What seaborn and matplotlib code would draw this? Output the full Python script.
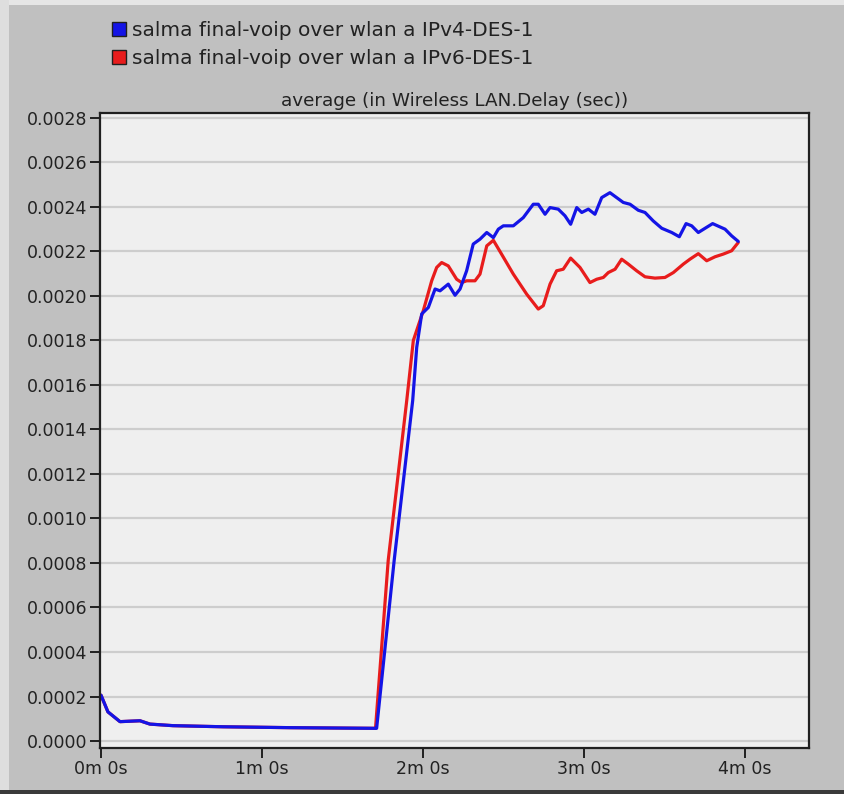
import matplotlib
matplotlib.use("Agg")
import matplotlib.pyplot as plt
from matplotlib.patches import Patch, Rectangle
import seaborn as sns
import pandas as pd

# ---- data (time in minutes, delay in seconds) ----
ipv4_time = [0.0, 0.043, 0.118, 0.242, 0.304, 0.447, 0.758, 1.174, 1.702, 1.712,
             1.821, 1.936, 1.961, 1.992, 2.033, 2.075, 2.106, 2.157, 2.199, 2.230,
             2.271, 2.312, 2.354, 2.396, 2.437, 2.468, 2.499, 2.561, 2.623, 2.685,
             2.716, 2.758, 2.789, 2.840, 2.882, 2.917, 2.955, 2.986, 3.027, 3.068,
             3.110, 3.161, 3.244, 3.286, 3.337, 3.379, 3.430, 3.483, 3.545, 3.592,
             3.634, 3.669, 3.710, 3.752, 3.799, 3.845, 3.876, 3.917, 3.958]
ipv4_delay = [0.000206, 0.000131, 0.000087, 0.000091, 0.000076, 0.000069, 0.000064, 0.000060, 0.000057, 0.000057,
              0.000812, 0.001530, 0.001769, 0.001919, 0.001948, 0.002031, 0.002023, 0.002053, 0.002003, 0.002031,
              0.002113, 0.002233, 0.002255, 0.002285, 0.002262, 0.002300, 0.002315, 0.002315, 0.002352, 0.002412,
              0.002412, 0.002367, 0.002397, 0.002390, 0.002360, 0.002322, 0.002397, 0.002375, 0.002390, 0.002367,
              0.002442, 0.002464, 0.002420, 0.002412, 0.002385, 0.002375, 0.002337, 0.002304, 0.002285, 0.002266,
              0.002325, 0.002315, 0.002285, 0.002304, 0.002325, 0.002310, 0.002300, 0.002270, 0.002245]

ipv6_time = [0.0, 0.043, 0.118, 0.242, 0.304, 0.447, 0.758, 1.174, 1.702, 1.705,
             1.784, 1.899, 1.940, 2.002, 2.054, 2.085, 2.116, 2.157, 2.209, 2.240,
             2.271, 2.323, 2.354, 2.396, 2.437, 2.478, 2.561, 2.644, 2.716, 2.747,
             2.789, 2.830, 2.871, 2.917, 2.975, 3.037, 3.079, 3.120, 3.151, 3.193,
             3.234, 3.275, 3.327, 3.379, 3.441, 3.503, 3.555, 3.617, 3.658, 3.710,
             3.762, 3.814, 3.865, 3.917, 3.958]
ipv6_delay = [0.000206, 0.000131, 0.000087, 0.000091, 0.000076, 0.000069, 0.000064, 0.000060, 0.000057, 0.000057,
              0.000812, 0.001530, 0.001800, 0.001934, 0.002068, 0.002128, 0.002150, 0.002135, 0.002075, 0.002060,
              0.002068, 0.002068, 0.002098, 0.002225, 0.002250, 0.002200, 0.002098, 0.002008, 0.001941, 0.001956,
              0.002053, 0.002113, 0.002120, 0.002170, 0.002128, 0.002060, 0.002075, 0.002083, 0.002105, 0.002120,
              0.002165, 0.002143, 0.002113, 0.002086, 0.002080, 0.002083, 0.002105, 0.002143, 0.002165, 0.002190,
              0.002158, 0.002176, 0.002188, 0.002203, 0.002240]

series_names = ["salma final-voip over wlan a IPv4-DES-1",
                "salma final-voip over wlan a IPv6-DES-1"]
series_colors = ["#1414e6", "#e81c1c"]

x_ticks = [0, 1, 2, 3, 4]
x_tick_labels = ["0m 0s", "1m 0s", "2m 0s", "3m 0s", "4m 0s"]
y_ticks = [i * 0.0002 for i in range(15)]
y_tick_labels = [f"{v:.4f}" for v in y_ticks]
title = "average (in Wireless LAN.Delay (sec))"

df = pd.concat([
    pd.DataFrame({"time": ipv4_time, "delay": ipv4_delay, "series": series_names[0]}),
    pd.DataFrame({"time": ipv6_time, "delay": ipv6_delay, "series": series_names[1]}),
])

sns.set_theme(style="white")
plt.rcParams["font.family"] = ["DejaVu Sans"]

fig = plt.figure(figsize=(8.44, 7.94), dpi=100, facecolor="#c0c0c0")
ax = fig.add_axes([100 / 844, 1 - 748 / 794, (809 - 100) / 844, (748 - 113) / 794])
ax.set_facecolor("#efefef")

# draw red first so blue sits on top, like the reference
sns.lineplot(data=df[df.series == series_names[1]], x="time", y="delay",
             color=series_colors[1], linewidth=2.3, ax=ax, legend=False, sort=False)
sns.lineplot(data=df[df.series == series_names[0]], x="time", y="delay",
             color=series_colors[0], linewidth=2.3, ax=ax, legend=False, sort=False)

ax.set_xlim(-1 / 161, 708 / 161)
ax.set_ylim(-0.0000314, 0.002822)
ax.set_yticks(y_ticks)
ax.set_yticklabels(y_tick_labels)
ax.set_xticks(x_ticks)
ax.set_xticklabels(x_tick_labels)
ax.set_xlabel("")
ax.set_ylabel("")
ax.yaxis.grid(True, color="#cdcdcd", linewidth=1.6)
ax.xaxis.grid(False)
ax.set_axisbelow(True)
for s in ax.spines.values():
    s.set_color("#202020")
    s.set_linewidth(1.6)
ax.tick_params(axis="both", which="major", direction="out", length=7, width=1.4,
               color="#202020", labelsize=12.5, labelcolor="#222222", pad=2,
               left=True, bottom=True)
ax.set_title(title, fontsize=13.2, color="#222222", pad=5)

handles = [Patch(facecolor=c, edgecolor="#202020", linewidth=1.0) for c in series_colors]
fig.legend(handles, series_names, loc="upper left", bbox_to_anchor=(94 / 844, 1 - 3 / 794),
           frameon=False, fontsize=14.5, handlelength=0.7, handleheight=0.7,
           handletextpad=0.3, labelspacing=0.45, labelcolor="#222222")

# window-like borders
fig.patches.append(Rectangle((0, 0), 1, 4 / 794, transform=fig.transFigure,
                             facecolor="#3a3a3a", edgecolor="none"))
fig.patches.append(Rectangle((0, 1 - 5 / 794), 1, 5 / 794, transform=fig.transFigure,
                             facecolor="#e6e6e6", edgecolor="none"))
fig.patches.append(Rectangle((0, 4 / 794), 9 / 844, 1, transform=fig.transFigure,
                             facecolor="#dedede", edgecolor="none"))

fig.savefig("out.png", dpi=100, facecolor=fig.get_facecolor())
